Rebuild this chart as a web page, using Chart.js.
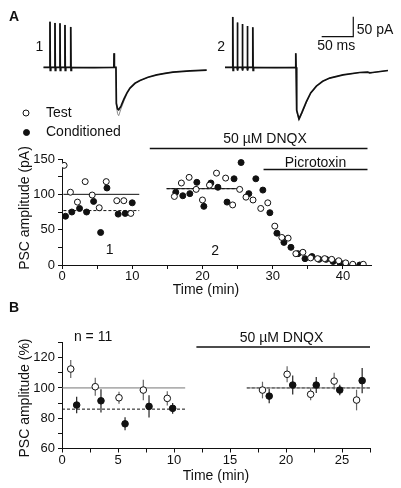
<!DOCTYPE html>
<html>
<head>
<meta charset="utf-8">
<script src="https://cdn.jsdelivr.net/npm/chart.js@4"></script>
<style>
  html, body { margin: 0; padding: 0; background: #fff; }
  #wrap { position: relative; width: 401px; height: 488px; }
  #wrap canvas { position: absolute; left: 0; top: 0; }
</style>
</head>
<body>
<div id="wrap">
  <canvas id="trace1" width="401" height="488"></canvas>
  <canvas id="trace2" width="401" height="488"></canvas>
  <canvas id="chartA" width="401" height="488"></canvas>
  <canvas id="chartB" width="401" height="488"></canvas>
</div>
<script>
// ---- example currents (ms, pA) ----
const trace1Time = [0, 10.1, 10.6, 11.1, 11.8, 18.0, 18.5, 19.0, 19.7, 25.9, 26.4, 26.9, 27.6, 33.8, 34.3, 34.8, 35.5, 42.9, 43.4, 43.9, 44.6, 80,
  111.6, 112.0, 112.5, 115.0, 115.6, 117.5, 119.3, 122.9, 127.7, 132.4, 137.2, 145.1, 153.0, 165.7, 179.4, 192.6, 205.2, 232.1, 258.5];
const trace1Cond = [0, 0, 114, -8, 0, 0, 111, -8, 0, 0, 110, -8, 0, 0, 106, -8, 0, 0, 101, -8, 0, -1,
  0, 35, 0, 0, -90, -104, -106, -97, -79, -64, -52, -40, -33, -25, -19, -15, -12, -9, -7];
const trace1Test = [0, 0, 114, -8, 0, 0, 111, -8, 0, 0, 110, -8, 0, 0, 106, -8, 0, 0, 101, -8, 0, -1,
  0, 35, 0, 0, -95, -116, -121, -104, -84, -66, -53, -40, -33, -25, -19, -15, -12, -9, -7];

const trace2Time = [0, 11.8, 12.3, 12.8, 13.5, 19.1, 19.6, 20.1, 20.8, 27.0, 27.5, 28.0, 28.7, 34.9, 35.4, 35.9, 36.6, 43.5, 44.0, 44.5, 45.2, 80,
  111.6, 112.0, 112.5, 113.0, 113.8, 117.1, 121.4, 128.8, 135.6, 144.6, 154.6, 165.7, 186.7, 213.1, 225.8, 229.0, 233.7, 257.9];
const trace2Cond = [0, 0, 126, -8, 0, 0, 112, -8, 0, 0, 108, -8, 0, 0, 103, -8, 0, 0, 100, -8, 0, -1,
  0, 35, 0, 0, -107, -129, -114, -86, -64, -47, -35, -27, -19, -13, -12, -14, -13, -8];
const trace2Test = [0, 0, 126, -8, 0, 0, 112, -8, 0, 0, 108, -8, 0, 0, 103, -8, 0, 0, 100, -8, 0, -1,
  0, 35, 0, 0, -110, -132, -117, -88, -65, -47, -35, -27, -19, -13, -12, -14, -13, -8];

// 50 ms / 50 pA scale bar
const scaleBarTime = [153, 203, 203];
const scaleBarAmp = [76.5, 76.5, 126.5];

// ---- panel A: single experiment ----
const testTimeA = [0.3, 1.2, 2.2, 3.3, 4.3, 5.3, 6.3, 7.8, 8.8, 9.8,
  16.0, 17.0, 18.1, 19.1, 20.0, 21.0, 22.0, 23.3, 24.3, 25.3, 26.2, 27.2, 28.3, 29.3,
  30.3, 31.3, 32.2, 33.3, 34.3, 35.4, 36.4, 37.4, 38.4, 39.4, 40.4, 41.4, 42.9];
const testAmpA = [141, 103, 89, 118, 99, 81, 118, 91, 91, 73,
  97, 116, 124, 107, 92, 113, 130, 123, 85, 107, 96, 92, 80, 88,
  55, 39, 38, 16, 18, 10, 9, 9, 8, 6, 3, 1, 1];
const condTimeA = [0.5, 1.4, 2.5, 3.5, 4.5, 5.5, 6.4, 8.0, 9.0, 10.0,
  16.2, 17.2, 18.2, 19.2, 20.2, 21.2, 22.2, 23.5, 24.5, 25.5, 26.6, 27.6, 28.6, 29.6,
  30.6, 31.6, 32.6, 33.6, 34.6, 35.6, 36.6, 37.6, 38.6, 39.6, 40.4, 41.4, 42.4];
const condAmpA = [69, 75, 80, 75, 90, 46, 109, 72, 73, 88,
  103, 98, 101, 117, 83, 116, 110, 89, 122, 145, 101, 122, 106, 74,
  45, 32, 25, 16, 9, 12, 8, 8, 5, 3, 0, 0, 0];
const meanStartA = [0.2, 14.9];
const meanEndA = [11, 25.3];
const testMeanA = [100, 108];
const condMeanA = [77, 108];
const drugNamesA = ['50 \u00b5M DNQX', 'Picrotoxin'];
const drugStartA = [12.5, 28.7];
const drugEndA = [43.5, 43.5];
const xTickLabelsA = [0, 10, 20, 30, 40];
const yTickLabelsA = [0, 50, 100, 150];

// ---- panel B: n = 11 ----
const testTimeB = [0.78, 2.97, 5.09, 7.26, 9.4, 17.9, 20.1, 22.2, 24.3, 26.3];
const testAmpB = [112.5, 100.8, 93.5, 98.6, 93.1, 98.6, 109, 95.8, 104.5, 92];
const testErrB = [6, 6, 4, 6.8, 4.7, 5.5, 5.3, 4, 5.5, 6.8];
const condTimeB = [1.31, 3.48, 5.63, 7.77, 9.88, 18.5, 20.6, 22.7, 24.8, 26.8];
const condAmpB = [88.7, 91.5, 76.3, 87.8, 86.5, 94.6, 101.9, 101.9, 98.6, 104.8];
const condErrB = [5.5, 7.7, 4.3, 7.3, 3.6, 4.8, 6.3, 5.3, 3.5, 8.3];
const meanStartB = [0, 16.5];
const meanEndB = [11, 27.5];
const testMeanB = [100, 100];
const condMeanB = [86, 100];
const drugStartB = [12.0];
const drugEndB = [27.5];
const xTickLabelsB = [0, 5, 10, 15, 20, 25];
const yTickLabelsB = [60, 80, 100, 120];

const FONT = '"Liberation Sans", Arial, Helvetica, sans-serif';
const INK = '#111';
Chart.defaults.font.family = FONT;
Chart.defaults.color = INK;
Chart.defaults.animation = false;

const pts = (xs, ys) => xs.map((x, i) => ({ x: x, y: ys[i] }));

function axis(min, max, step, labels, fit, isX) {
  return {
    type: 'linear', min: min, max: max,
    afterBuildTicks: s => {
      s.ticks = s.ticks.filter(t => Math.abs(t.value / step - Math.round(t.value / step)) < 1e-6);
    },
    afterFit: s => { if (isX) s.height = fit; else s.width = fit; },
    ticks: {
      stepSize: step, autoSkip: false, maxRotation: 0, padding: isX ? 0 : 3,
      font: { size: 13 }, color: INK,
      callback: v => labels.includes(v) ? String(v) : ''
    },
    grid: { drawOnChartArea: false, tickLength: 4, color: INK },
    border: { display: true, color: INK, width: 1 }
  };
}

const hidden = { type: 'linear', display: false };

const line = (data, color, width, dash, extra) => Object.assign({
  type: 'line', data: data, borderColor: color, borderWidth: width,
  borderDash: dash || [], pointRadius: 0, fill: false, tension: 0, order: 2
}, extra || {});

const scatter = (data, filled, extra) => Object.assign({
  type: 'scatter', data: data, pointRadius: 3, pointHoverRadius: 3,
  pointBackgroundColor: filled ? INK : '#fff', pointBorderColor: INK,
  pointBorderWidth: 1, order: 0
}, extra || {});

// text and markers drawn from options.plugins.notes.items
const notesPlugin = {
  id: 'notes',
  afterDraw(chart, args, opts) {
    const ctx = chart.ctx;
    (opts.items || []).forEach(it => {
      let px = it.x, py = it.y;
      if (it.data) {
        px = chart.scales.x.getPixelForValue(it.x);
        py = chart.scales.y.getPixelForValue(it.y);
      }
      ctx.save();
      ctx.translate(px, py);
      if (it.marker) {
        ctx.beginPath();
        ctx.arc(0, 0, 3, 0, Math.PI * 2);
        ctx.fillStyle = it.marker === 'filled' ? INK : '#fff';
        ctx.fill();
        ctx.lineWidth = 1;
        ctx.strokeStyle = INK;
        ctx.stroke();
      } else {
        ctx.font = (it.bold ? 'bold ' : '') + (it.size || 14) + 'px ' + FONT;
        ctx.fillStyle = INK;
        ctx.textAlign = it.align || 'center';
        ctx.textBaseline = 'middle';
        if (it.rotate) ctx.rotate(-Math.PI / 2);
        ctx.fillText(it.text, 0, 0);
      }
      ctx.restore();
    });
  }
};

const errorBarPlugin = {
  id: 'errorBars',
  beforeDatasetsDraw(chart) {
    const ctx = chart.ctx, xs = chart.scales.x, ys = chart.scales.y;
    chart.data.datasets.forEach(ds => {
      if (!ds.errors) return;
      ctx.save();
      ctx.strokeStyle = ds.errorColor;
      ctx.lineWidth = 1.2;
      ds.data.forEach((p, i) => {
        const x = xs.getPixelForValue(p.x);
        ctx.beginPath();
        ctx.moveTo(x, ys.getPixelForValue(p.y - ds.errors[i]));
        ctx.lineTo(x, ys.getPixelForValue(p.y + ds.errors[i]));
        ctx.stroke();
      });
      ctx.restore();
    });
  }
};

// ---- traces ----
function traceChart(id, time, cond, test, left, right, label, extraSets, notes) {
  return new Chart(document.getElementById(id), {
    type: 'line',
    data: {
      datasets: [
        line(pts(time, test), '#8a8a8a', 1, null, { order: 3 }),
        line(pts(time, cond), INK, 1.7, null, { order: 1 })
      ].concat(extraSets)
    },
    options: {
      responsive: false,
      parsing: false,
      layout: { padding: { left: left, right: right, top: 7.3, bottom: 360.7 } },
      scales: { x: Object.assign({ min: 0, max: 260 }, hidden), y: Object.assign({ min: -150, max: 150 }, hidden) },
      plugins: {
        legend: { display: false }, tooltip: { enabled: false },
        notes: { items: [{ text: label, x: -6, y: 50, data: true }].concat(notes) }
      }
    },
    plugins: [notesPlugin]
  });
}

traceChart('trace1', trace1Time, trace1Cond, trace1Test, 43.3, 193.4, '1', [], []);
traceChart('trace2', trace2Time, trace2Cond, trace2Test, 225, 11.7, '2',
  [line(pts(scaleBarTime, scaleBarAmp), INK, 1.2, null, { clip: false })],
  [
    { text: '50 pA', x: 208.6, y: 92, data: true, align: 'left' },
    { text: '50 ms', x: 176, y: 52, data: true }
  ]);

// ---- panel A ----
const setsA = [
  scatter(pts(testTimeA, testAmpA), false),
  scatter(pts(condTimeA, condAmpA), true)
];
meanStartA.forEach((s, i) => {
  setsA.push(line([{ x: s, y: testMeanA[i] }, { x: meanEndA[i], y: testMeanA[i] }], INK, 1));
  setsA.push(line([{ x: s, y: condMeanA[i] }, { x: meanEndA[i], y: condMeanA[i] }], INK, 1, [3, 2]));
});
const drugLevelA = [165, 135];
drugStartA.forEach((s, i) => {
  setsA.push(line([{ x: s, y: drugLevelA[i] }, { x: drugEndA[i], y: drugLevelA[i] }], INK, 1.5, null, { clip: false }));
});

new Chart(document.getElementById('chartA'), {
  type: 'scatter',
  data: { datasets: setsA },
  options: {
    responsive: false,
    parsing: false,
    layout: { padding: { left: 22, right: 30, top: 159, bottom: 193 } },
    scales: {
      x: axis(0, 44, 5, xTickLabelsA, 30, true),
      y: axis(0, 150, 25, yTickLabelsA, 40, false)
    },
    plugins: {
      legend: { display: false }, tooltip: { enabled: false },
      notes: {
        items: [
          { text: 'A', x: 14, y: 17, bold: true, size: 14 },
          { marker: 'open', x: 26, y: 113 },
          { text: 'Test', x: 46, y: 113, align: 'left' },
          { marker: 'filled', x: 26.5, y: 132.5 },
          { text: 'Conditioned', x: 46, y: 132.5, align: 'left' },
          { text: drugNamesA[0], x: 28.9, y: 178, data: true },
          { text: drugNamesA[1], x: 36.1, y: 144, data: true },
          { text: '1', x: 6.8, y: 21, data: true },
          { text: '2', x: 21.8, y: 19, data: true },
          { text: 'PSC amplitude (pA)', x: 25, y: 208, rotate: true },
          { text: 'Time (min)', x: 206, y: 290 }
        ]
      }
    }
  },
  plugins: [notesPlugin]
});

// ---- panel B ----
const setsB = [
  scatter(pts(testTimeB, testAmpB), false, { errors: testErrB, errorColor: '#666', pointRadius: 3.3 }),
  scatter(pts(condTimeB, condAmpB), true, { errors: condErrB, errorColor: '#222', pointRadius: 3.3 })
];
meanStartB.forEach((s, i) => {
  setsB.push(line([{ x: s, y: testMeanB[i] }, { x: meanEndB[i], y: testMeanB[i] }], '#777', 1));
  setsB.push(line([{ x: s, y: condMeanB[i] }, { x: meanEndB[i], y: condMeanB[i] }], INK, 1, [3, 2]));
});
drugStartB.forEach((s, i) => {
  setsB.push(line([{ x: s, y: 127 }, { x: drugEndB[i], y: 127 }], INK, 1.5, null, { clip: false }));
});

new Chart(document.getElementById('chartB'), {
  type: 'scatter',
  data: { datasets: setsB },
  options: {
    responsive: false,
    parsing: false,
    layout: { padding: { left: 22, right: 31, top: 342.5, bottom: 9.5 } },
    scales: {
      x: axis(0, 27.5, 2.5, xTickLabelsB, 30, true),
      y: axis(60, 130, 10, yTickLabelsB, 40, false)
    },
    plugins: {
      legend: { display: false }, tooltip: { enabled: false },
      notes: {
        items: [
          { text: 'B', x: 14, y: 308, bold: true, size: 14 },
          { text: 'n = 11', x: 2.77, y: 133.7, data: true },
          { text: drugNamesA[0], x: 19.6, y: 133, data: true },
          { text: 'PSC amplitude (%)', x: 25, y: 398, rotate: true },
          { text: 'Time (min)', x: 216, y: 476 }
        ]
      }
    }
  },
  plugins: [notesPlugin, errorBarPlugin]
});
</script>
</body>
</html>
